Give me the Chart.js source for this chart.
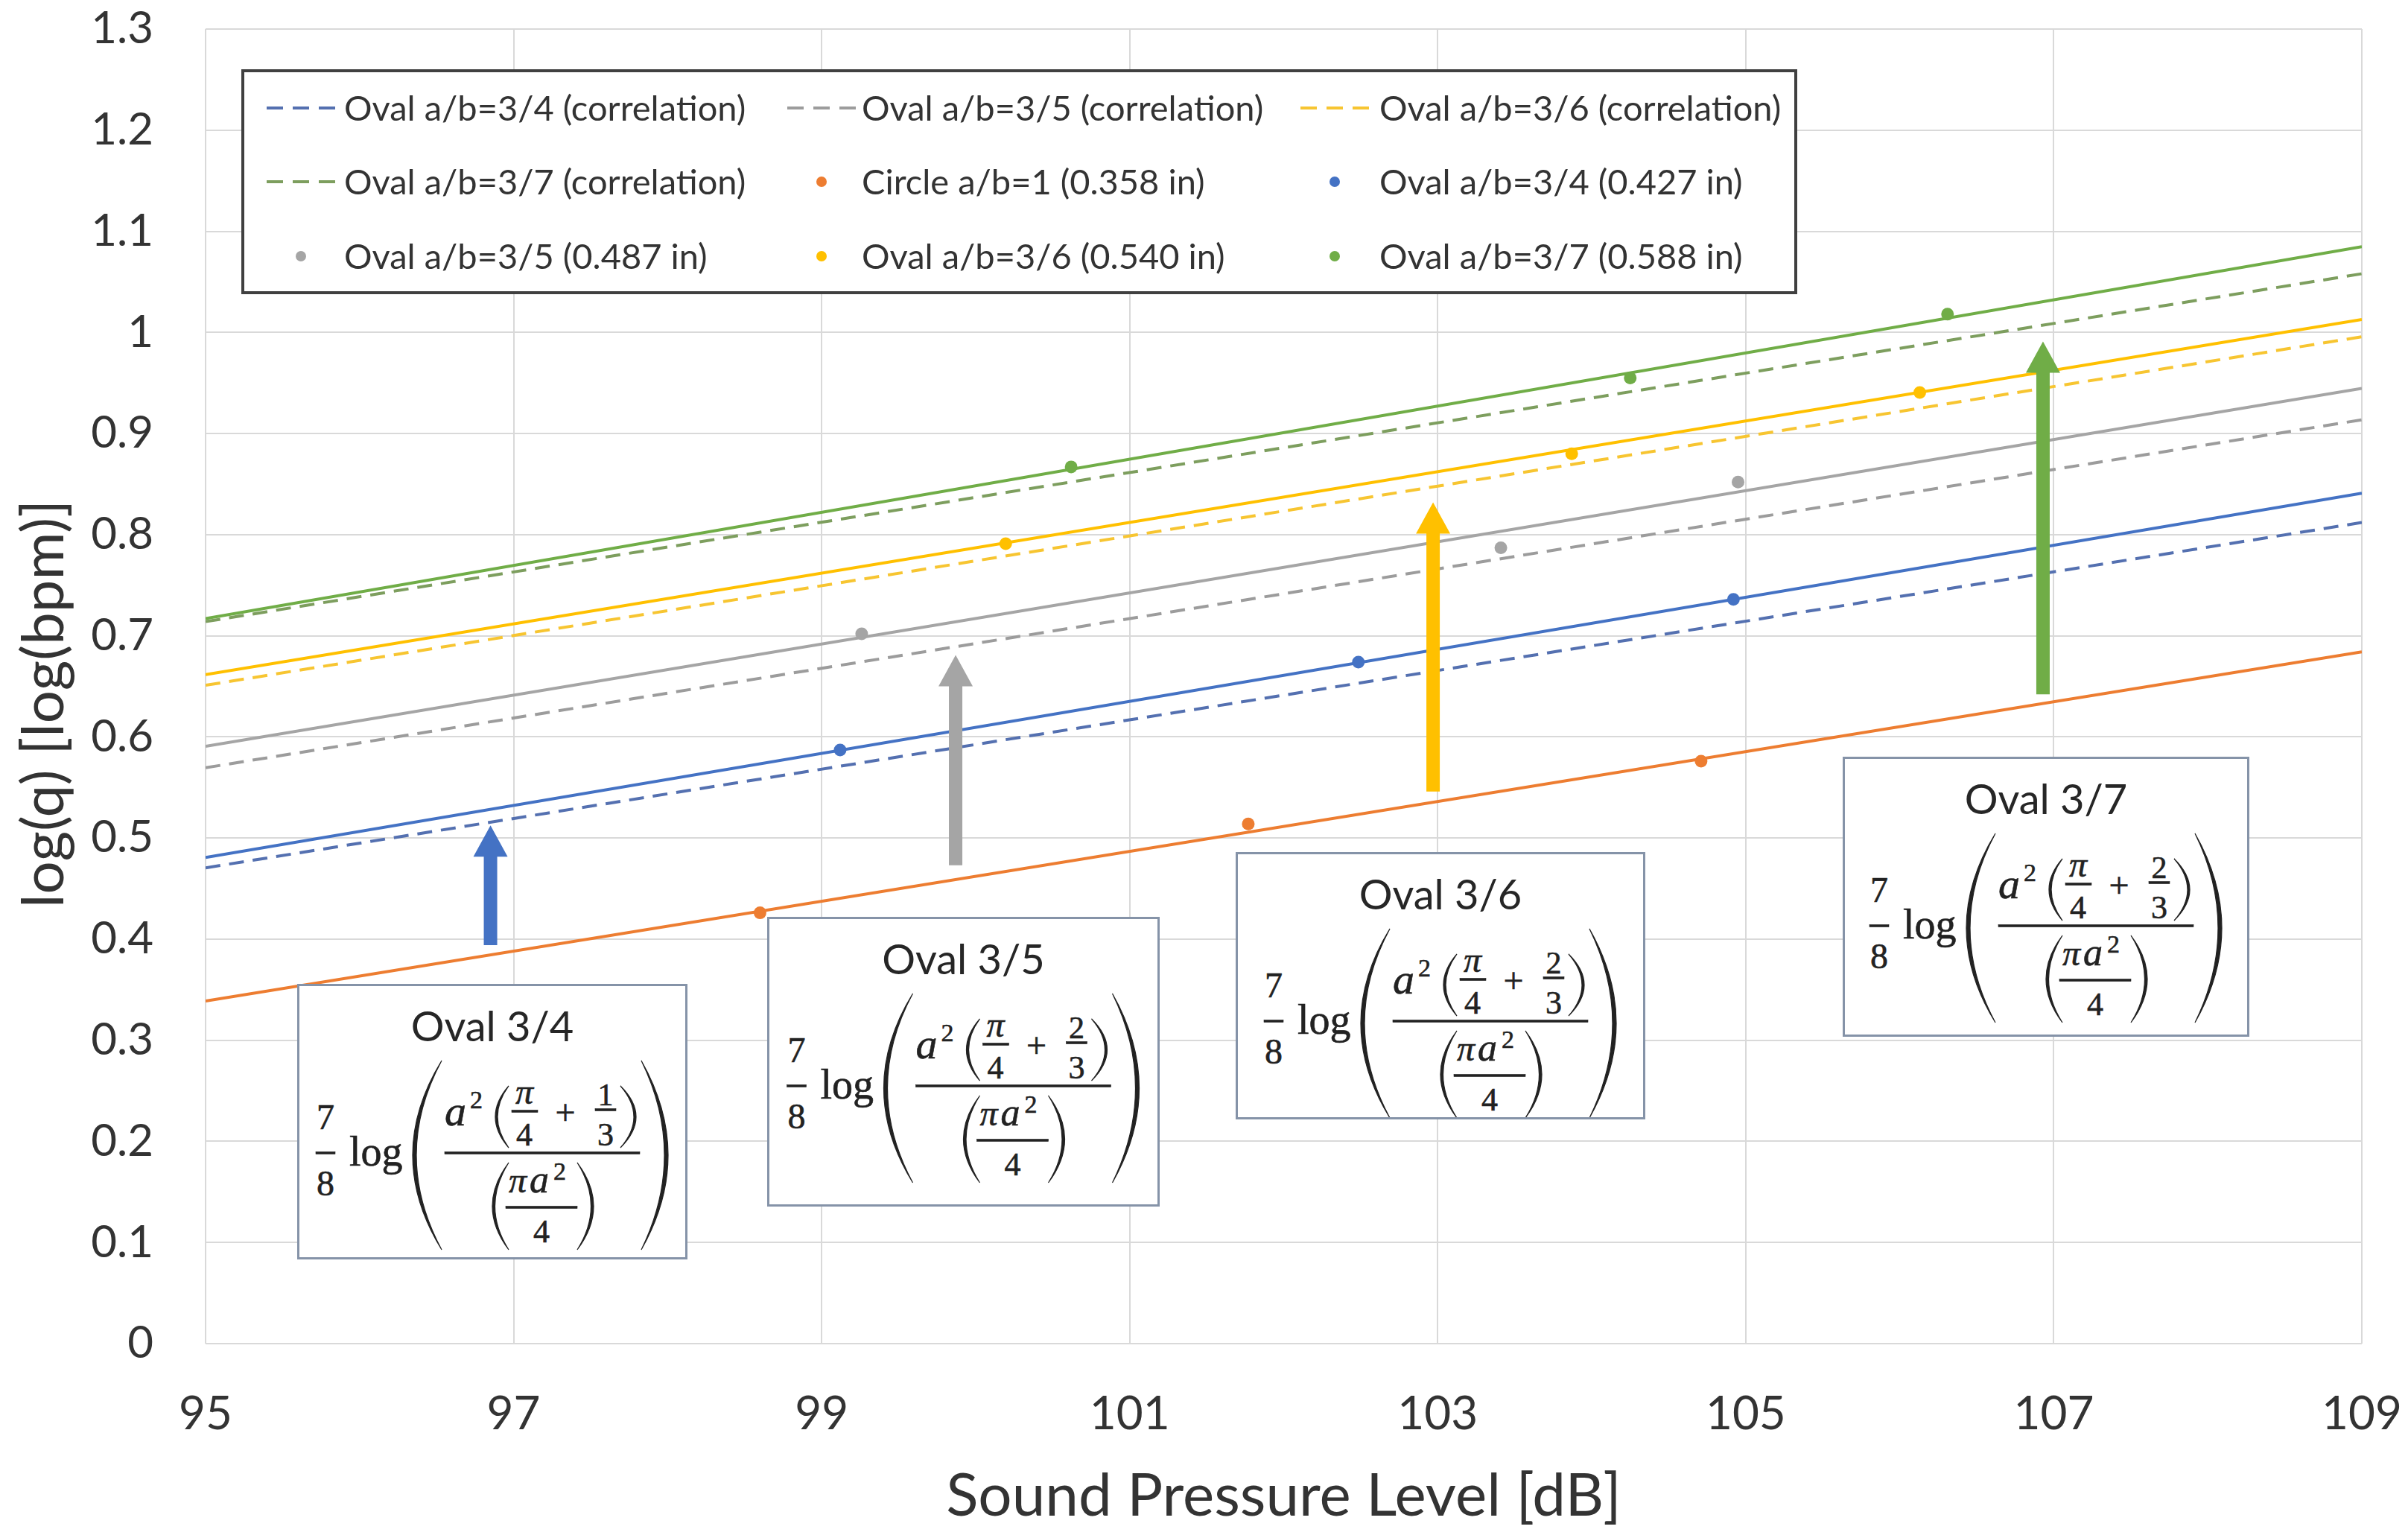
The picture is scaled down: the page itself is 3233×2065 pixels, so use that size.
<!DOCTYPE html>
<html>
<head>
<meta charset="utf-8">
<script src="https://cdn.jsdelivr.net/npm/chart.js@4.4.1/dist/chart.umd.min.js"></script>
<style>
  html, body { margin: 0; padding: 0; background: #fff; }
  #wrap { position: relative; width: 3233px; height: 2065px; }
  .note { position: absolute; box-sizing: border-box; border: 3px solid #8593a8; background: #fff; }
</style>
</head>
<body>
<div id="wrap">
  <canvas id="c"></canvas>
</div>
<script>
// x range of the straight lines
const xEnds = [95, 109];

// dashed correlation lines (value at 95 dB and 109 dB)
const corrOval34 = [0.4705, 0.812];
const corrOval35 = [0.5695, 0.9136];
const corrOval36 = [0.651, 0.9957];
const corrOval37 = [0.714, 1.058];

// solid fitted lines through the measured points
const fitCircle = [0.3387, 0.684];
const fitOval34 = [0.4808, 0.841];
const fitOval35 = [0.5906, 0.9446];
const fitOval36 = [0.6615, 1.0128];
const fitOval37 = [0.717, 1.0847];

// measured points
const circleSpl = [98.6, 101.77, 104.71];
const circleQ = [0.426, 0.514, 0.576];
const oval34Spl = [99.12, 102.485, 104.92];
const oval34Q = [0.587, 0.674, 0.736];
const oval35Spl = [99.26, 103.41, 104.95];
const oval35Q = [0.702, 0.787, 0.852];
const oval36Spl = [100.195, 103.87, 106.13];
const oval36Q = [0.791, 0.880, 0.9405];
const oval37Spl = [100.62, 104.25, 106.31];
const oval37Q = [0.867, 0.955, 1.018];

// shift arrows (circle line -> oval line)
const arrowSpl = [96.85, 99.87, 102.97, 106.93];
const arrowFrom = [0.394, 0.473, 0.546, 0.642];
const arrowTo = [0.5125, 0.681, 0.832, 0.991];
const arrowColors = ['#4472c4', '#a5a5a5', '#ffc000', '#70ad47'];

const xTicks = [95, 97, 99, 101, 103, 105, 107, 109];
const yTicks = [0, 0.1, 0.2, 0.3, 0.4, 0.5, 0.6, 0.7, 0.8, 0.9, 1, 1.1, 1.2, 1.3];

const legendOrder = [
  'Oval a/b=3/4 (correlation)', 'Oval a/b=3/5 (correlation)', 'Oval a/b=3/6 (correlation)',
  'Oval a/b=3/7 (correlation)', 'Circle a/b=1 (0.358 in)', 'Oval a/b=3/4 (0.427 in)',
  'Oval a/b=3/5 (0.487 in)', 'Oval a/b=3/6 (0.540 in)', 'Oval a/b=3/7 (0.588 in)'
];

const noteBoxes = [
  { title: 'Oval 3/4', k: '1', left: 399, top: 1321, w: 524, h: 370 },
  { title: 'Oval 3/5', k: '2', left: 1030, top: 1231, w: 527, h: 389 },
  { title: 'Oval 3/6', k: '2', left: 1659, top: 1144, w: 550, h: 359 },
  { title: 'Oval 3/7', k: '2', left: 2474, top: 1016, w: 546, h: 376 }
];

function pts(xs, ys) {
  return xs.map((x, i) => ({ x: x, y: ys[i] }));
}

function pointSet(label, xs, ys, color) {
  return { label: label, data: pts(xs, ys), showLine: false, pointRadius: 8.5,
    pointBackgroundColor: color, pointBorderWidth: 0, borderColor: color, backgroundColor: color };
}

function lineSet(label, ys, color, dashed) {
  return { label: label, data: pts(xEnds, ys), showLine: true, pointRadius: 0, fill: false,
    borderColor: color, backgroundColor: color, borderWidth: 4, borderDash: dashed ? [20, 12] : [] };
}

const datasets = [
  pointSet('Circle a/b=1 (0.358 in)', circleSpl, circleQ, '#ed7d31'),
  pointSet('Oval a/b=3/4 (0.427 in)', oval34Spl, oval34Q, '#4472c4'),
  pointSet('Oval a/b=3/5 (0.487 in)', oval35Spl, oval35Q, '#a5a5a5'),
  pointSet('Oval a/b=3/6 (0.540 in)', oval36Spl, oval36Q, '#ffc000'),
  pointSet('Oval a/b=3/7 (0.588 in)', oval37Spl, oval37Q, '#70ad47'),
  lineSet('fit circle', fitCircle, '#ed7d31', false),
  lineSet('fit 3/4', fitOval34, '#4472c4', false),
  lineSet('fit 3/5', fitOval35, '#a5a5a5', false),
  lineSet('fit 3/6', fitOval36, '#ffc000', false),
  lineSet('fit 3/7', fitOval37, '#70ad47', false),
  lineSet('Oval a/b=3/4 (correlation)', corrOval34, '#5470b0', true),
  lineSet('Oval a/b=3/5 (correlation)', corrOval35, '#9c9c9c', true),
  lineSet('Oval a/b=3/6 (correlation)', corrOval36, '#f7c531', true),
  lineSet('Oval a/b=3/7 (correlation)', corrOval37, '#7d9e5e', true)
];

// arrows between circle and oval lines
const arrowPlugin = {
  id: 'arrows',
  afterDatasetsDraw(chart) {
    const ctx = chart.ctx;
    const xs = chart.scales.x, ys = chart.scales.y;
    ctx.save();
    arrowSpl.forEach((v, i) => {
      const px = xs.getPixelForValue(v);
      const y0 = ys.getPixelForValue(arrowFrom[i]);
      const y1 = ys.getPixelForValue(arrowTo[i]);
      const head = 42, half = 23, shaft = 9;
      ctx.fillStyle = arrowColors[i];
      ctx.beginPath();
      ctx.moveTo(px - shaft, y0);
      ctx.lineTo(px - shaft, y1 + head);
      ctx.lineTo(px - half, y1 + head);
      ctx.lineTo(px, y1);
      ctx.lineTo(px + half, y1 + head);
      ctx.lineTo(px + shaft, y1 + head);
      ctx.lineTo(px + shaft, y0);
      ctx.closePath();
      ctx.fill();
    });
    ctx.restore();
  }
};

// boxed legend inside the plot, three columns, plus the y title
const legendPlugin = {
  id: 'boxLegend',
  afterDraw(chart) {
    const ctx = chart.ctx;
    const L = { x: 326, y: 95, w: 2085, h: 298 };
    const rowY = [50, 149, 249];
    const colSym = [32, 731, 1420];
    const colText = [136, 831, 1526];
    ctx.save();
    ctx.fillStyle = '#fff';
    ctx.fillRect(L.x, L.y, L.w, L.h);
    ctx.strokeStyle = '#404040';
    ctx.lineWidth = 4;
    ctx.strokeRect(L.x, L.y, L.w, L.h);
    ctx.font = '47px Lato';
    ctx.textBaseline = 'middle';
    legendOrder.forEach((label, i) => {
      const ds = chart.data.datasets.find(d => d.label === label);
      const col = i % 3, row = Math.floor(i / 3);
      const sx = L.x + colSym[col], ty = L.y + rowY[row];
      if (ds.showLine) {
        ctx.strokeStyle = ds.borderColor;
        ctx.lineWidth = 4;
        ctx.setLineDash([22, 13]);
        ctx.beginPath();
        ctx.moveTo(sx, ty);
        ctx.lineTo(sx + 92, ty);
        ctx.stroke();
        ctx.setLineDash([]);
      } else {
        ctx.fillStyle = ds.pointBackgroundColor;
        ctx.beginPath();
        ctx.arc(sx + 46, ty, 7, 0, Math.PI * 2);
        ctx.fill();
      }
      ctx.fillStyle = '#333';
      ctx.fillText(label, L.x + colText[col], ty + 2);
    });

    // y axis title, a little below the plot centre as in the source
    ctx.translate(60, 945);
    ctx.rotate(-Math.PI / 2);
    ctx.font = '78px Lato';
    ctx.textAlign = 'center';
    ctx.fillStyle = '#333';
    ctx.fillText('log(q) [log(bpm)]', 0, 0);
    ctx.restore();
  }
};

const chart = new Chart(document.getElementById('c'), {
  type: 'scatter',
  data: { datasets: datasets },
  options: {
    responsive: true,
    maintainAspectRatio: false,
    devicePixelRatio: 1,
    animation: false,
    layout: { padding: { top: 39, right: 62, left: 0, bottom: 0 } },
    plugins: { legend: { display: false }, tooltip: { enabled: false } },
    scales: {
      x: {
        type: 'linear', min: 95, max: 109,
        afterBuildTicks: (s) => { s.ticks = xTicks.map(v => ({ value: v })); },
        afterFit: (s) => { s.height = 261; s.paddingLeft = 0; s.paddingRight = 0; },
        ticks: { font: { family: 'Lato', size: 62 }, color: '#333', padding: 58, maxRotation: 0 },
        grid: { color: '#d9d9d9', lineWidth: 2, drawTicks: false },
        border: { display: false },
        title: { display: true, text: 'Sound Pressure Level [dB]', font: { family: 'Lato', size: 80 },
          color: '#333', padding: { top: 0, bottom: 8 } }
      },
      y: {
        type: 'linear', min: 0, max: 1.3,
        afterBuildTicks: (s) => { s.ticks = yTicks.map(v => ({ value: v })); },
        afterFit: (s) => { s.width = 276; s.paddingTop = 0; s.paddingBottom = 0; },
        ticks: { font: { family: 'Lato', size: 60 }, color: '#333', padding: 70,
          callback: (v) => String(+v.toFixed(1)) },
        grid: { color: '#d9d9d9', lineWidth: 2, drawTicks: false },
        border: { display: false },
        title: { display: false }
      }
    }
  },
  plugins: [arrowPlugin, legendPlugin]
});

// formula annotation boxes
function paren(xEnd, xMid, y1, y2, w) {
  const ym = (y1 + y2) / 2;
  const c = 2 * xMid - xEnd;
  const dir = xMid < xEnd ? 1 : -1;
  return '<path d="M' + xEnd + ' ' + y1 + ' Q' + c + ' ' + ym + ' ' + xEnd + ' ' + y2 +
    ' Q' + (c + 2 * w * dir) + ' ' + ym + ' ' + xEnd + ' ' + y1 + ' Z" fill="#222" stroke="#222" stroke-width="1.2"/>';
}

function formula(k) {
  const t = (x, y, size, s, extra) =>
    '<text x="' + x + '" y="' + y + '" font-size="' + size + '" ' + (extra || '') + '>' + s + '</text>';
  const bar = (x, y, w) => '<rect x="' + x + '" y="' + (y - 1.5) + '" width="' + w + '" height="3" fill="#222"/>';
  const mid = 'text-anchor="middle"';
  const it = 'font-style="italic"';
  return [
    t(12, -32, 48, '7', mid), bar(-1, 0, 26), t(12, 57, 48, '8', mid),
    t(44, 17, 56, 'log'),
    paren(168, 129, -124, 130, 5),
    t(172, -37, 58, 'a', it), t(206, -60, 34, '2'),
    paren(258, 240, -90, -7, 3),
    t(279, -66, 48, 'π', mid + ' ' + it), bar(262, -56, 35), t(279, -10, 44, '4', mid),
    t(334, -38, 48, '+', mid),
    t(388, -64, 42, k, mid), bar(374, -58, 28), t(388, -10, 44, '3', mid),
    paren(408, 429, -90, -7, 3),
    bar(172, 0, 262),
    paren(258, 236, 13, 130, 3.5),
    t(270, 53, 48, 'π', mid + ' ' + it), t(286, 53, 52, 'a', it), t(318, 36, 34, '2'),
    bar(254, 73, 96), t(302, 120, 44, '4', mid),
    paren(350, 372, 13, 130, 3.5),
    paren(436, 472, -124, 130, 5)
  ].join('');
}

const wrap = document.getElementById('wrap');
noteBoxes.forEach(b => {
  const div = document.createElement('div');
  div.className = 'note';
  div.style.left = b.left + 'px';
  div.style.top = b.top + 'px';
  div.style.width = b.w + 'px';
  div.style.height = b.h + 'px';
  const iw = b.w - 6, ih = b.h - 6;
  div.innerHTML =
    '<svg width="' + iw + '" height="' + ih + '" style="display:block">' +
    '<text x="' + (iw / 2) + '" y="74" text-anchor="middle" font-family="Lato" font-size="56" fill="#262626">' + b.title + '</text>' +
    '<g transform="translate(' + ((iw - 472) / 2) + ',224)" font-family="Liberation Serif" fill="#222" stroke="#222" stroke-width="0.6">' +
    formula(b.k) + '</g></svg>';
  wrap.appendChild(div);
});
</script>
</body>
</html>
